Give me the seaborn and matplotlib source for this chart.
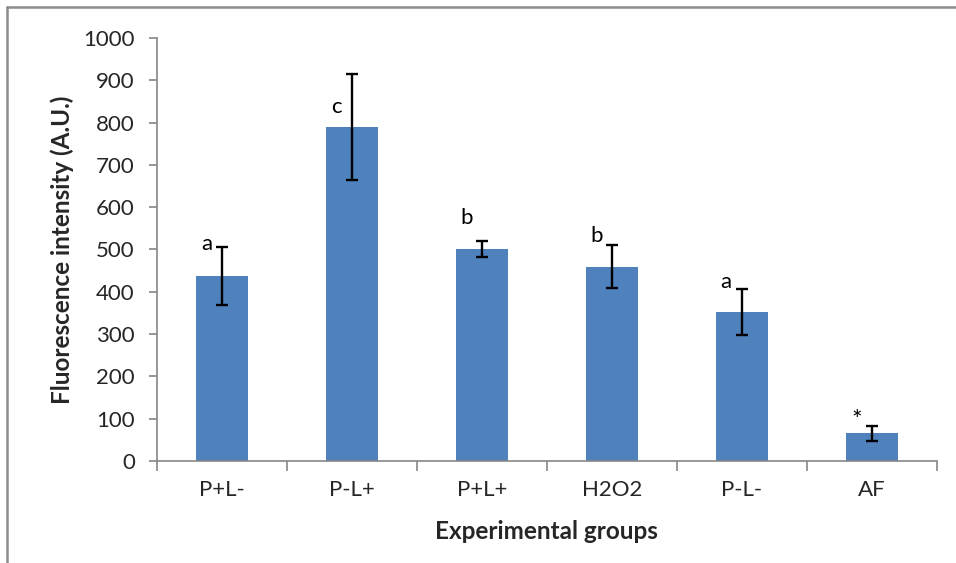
import matplotlib
matplotlib.use("Agg")
import matplotlib.pyplot as plt
import seaborn as sns
import pandas as pd
from matplotlib.lines import Line2D

groups = ["P+L-", "P-L+", "P+L+", "H2O2", "P-L-", "AF"]
means = [437, 790, 501, 459, 352, 65]
errors = [68, 126, 19, 51, 54, 17]
letters = ["a", "c", "b", "b", "a", "*"]
letter_y = [512, 838, 575, 532, 422, 95]

sns.set_theme(style="white")
plt.rcParams["font.family"] = ["Lato", "DejaVu Sans"]

df = pd.DataFrame({"group": groups, "value": means})

fig = plt.figure(figsize=(9.56, 5.63), dpi=100)
ax = fig.add_axes([0.1642, 0.1812, 0.8158, 0.7513])

sns.barplot(data=df, x="group", y="value", color="#4F81BD", saturation=1,
            width=0.4, errorbar=None, ax=ax, edgecolor="none")
xs = list(range(len(groups)))
ax.errorbar(xs, means, yerr=errors, fmt="none", ecolor="black",
            elinewidth=1.7, capsize=4.5, capthick=1.7, zorder=5)

for i, (t, y) in enumerate(zip(letters, letter_y)):
    ax.text(i - 0.12, y, t, ha="center", va="center",
            fontsize=18 if t == "*" else 16, color="black")

ax.set_xlim(-0.5, 5.5)
ax.set_ylim(0, 1000)
ax.set_yticks(range(0, 1001, 100))
ax.set_xticks(xs)
ax.set_xticklabels(groups, fontsize=16)
ax.tick_params(axis="y", labelsize=16, length=6, width=1.2, color="#868686",
               left=True, direction="out", pad=10)
ax.tick_params(axis="x", length=0, pad=14)
ax.set_xticks([i - 0.5 for i in range(len(groups) + 1)], minor=True)
ax.tick_params(axis="x", which="minor", length=7, width=1.2, color="#868686",
               bottom=True, direction="out")

for s in ["top", "right"]:
    ax.spines[s].set_visible(False)
for s in ["left", "bottom"]:
    ax.spines[s].set_color("#868686")
    ax.spines[s].set_linewidth(1.2)

ax.set_xlabel("Experimental groups", fontsize=17.5, fontweight="bold", labelpad=14)
ax.set_ylabel("Fluorescence intensity (A.U.)", fontsize=17.5, fontweight="bold", labelpad=7)

# outer chart border (only top and left visible in the crop)
fig.add_artist(Line2D([7/956, 1.0], [1 - 7/563, 1 - 7/563], transform=fig.transFigure,
                      color="#8c8c8c", linewidth=1.8))
fig.add_artist(Line2D([7/956, 7/956], [0.0, 1 - 7/563], transform=fig.transFigure,
                      color="#8c8c8c", linewidth=1.8))

fig.savefig("out.png", dpi=100)
